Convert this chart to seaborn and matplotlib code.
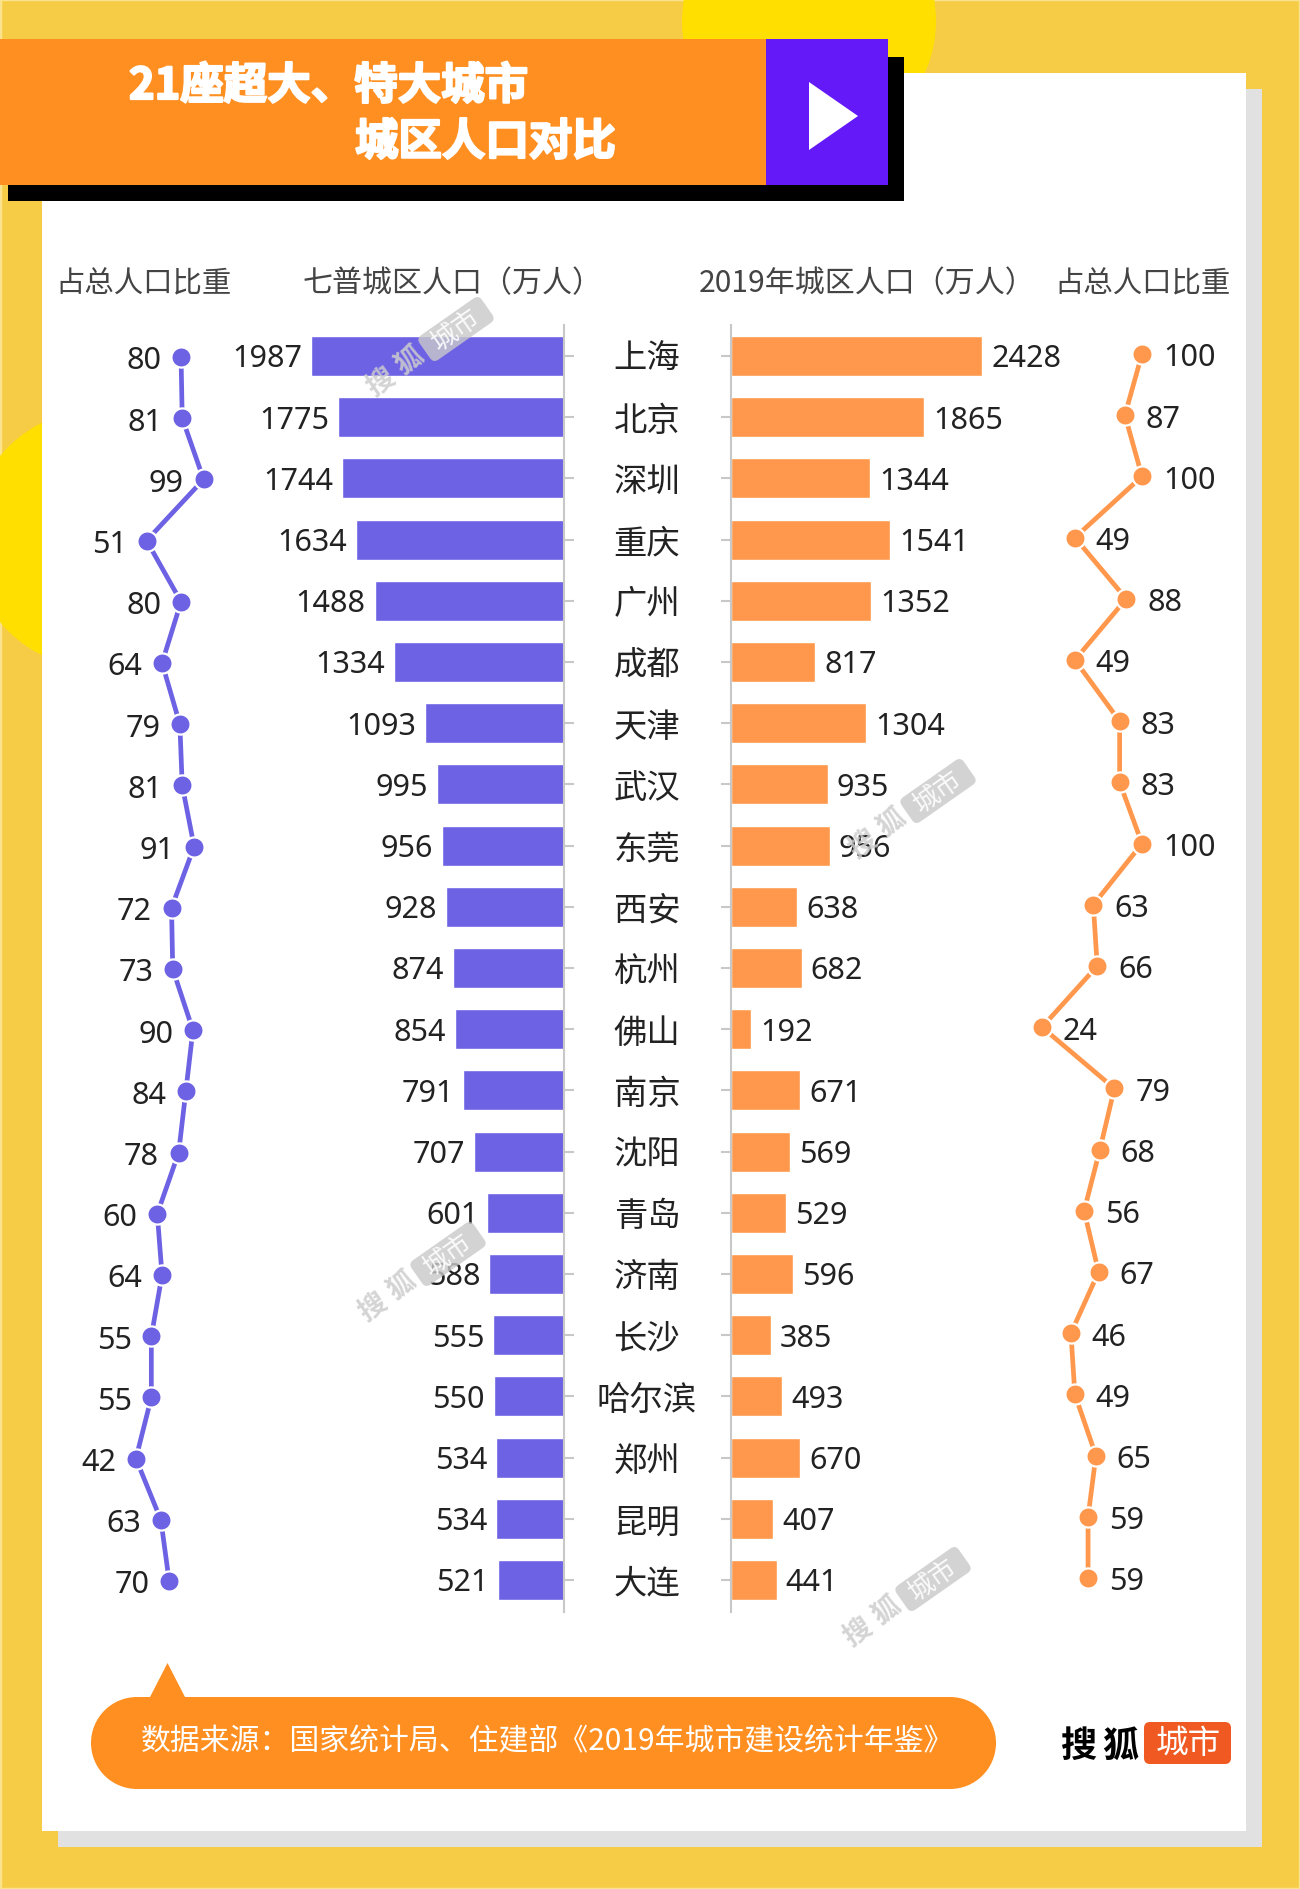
import matplotlib
matplotlib.use("Agg")
import matplotlib.pyplot as plt
import matplotlib.patheffects as pe
from matplotlib.patches import Rectangle, Circle, Polygon, FancyBboxPatch
from matplotlib.transforms import Affine2D, ScaledTranslation
import pandas as pd
import seaborn as sns

cities = ["上海", "北京", "深圳", "重庆", "广州", "成都", "天津", "武汉", "东莞", "西安", "杭州",
          "佛山", "南京", "沈阳", "青岛", "济南", "长沙", "哈尔滨", "郑州", "昆明", "大连"]
census_share = [80, 81, 99, 51, 80, 64, 79, 81, 91, 72, 73, 90, 84, 78, 60, 64, 55, 55, 42, 63, 70]
census_pop = [1987, 1775, 1744, 1634, 1488, 1334, 1093, 995, 956, 928, 874, 854, 791, 707, 601,
              588, 555, 550, 534, 534, 521]
pop_2019 = [2428, 1865, 1344, 1541, 1352, 817, 1304, 935, 956, 638, 682, 192, 671, 569, 529,
            596, 385, 493, 670, 407, 441]
share_2019 = [100, 87, 100, 49, 88, 49, 83, 83, 100, 63, 66, 24, 79, 68, 56, 67, 46, 49, 65, 59, 59]

title_lines = ["21座超大、特大城市", "城区人口对比"]
headers = ["占总人口比重", "七普城区人口（万人）", "2019年城区人口（万人）", "占总人口比重"]
source_text = "数据来源：国家统计局、住建部《2019年城市建设统计年鉴》"

PURPLE = "#6E62E4"
ORANGE = "#FF984D"
BG = "#F6CC46"
W, H = 1300, 1890
CJK = "Noto Sans CJK SC"
DIGITS = ["Noto Sans", CJK]
NUM_SIZE = 22

sns.set_theme(style="white")
plt.rcParams["font.family"] = [CJK, "DejaVu Sans"]
plt.rcParams["axes.facecolor"] = "none"

fig = plt.figure(figsize=(13, 18.9), dpi=100, facecolor=BG)


def px_axes(x0, y0, x1, y1, z):
    """Axes from pixel box (y measured from the top of the figure)."""
    return fig.add_axes([x0 / W, 1 - y1 / H, (x1 - x0) / W, (y1 - y0) / H], zorder=z)


# ---------- decoration layer ----------
bg = px_axes(0, 0, W, H, 0)
bg.set_xlim(0, W)
bg.set_ylim(H, 0)
bg.axis("off")
bg.add_patch(Rectangle((0, 0), W, H, fc=BG, ec="#FBE38E", lw=2.5))
bg.add_patch(Circle((809, 22), 127, fc="#FFDF00", ec="none"))
bg.add_patch(Circle((100, 540), 130, fc="#FFDF00", ec="none"))
bg.add_patch(Rectangle((58, 90), 1204, 1758, fc="#E1E1E1", ec="none"))
bg.add_patch(Rectangle((42, 74), 1204, 1758, fc="white", ec="none"))
bg.add_patch(Rectangle((8, 58), 896, 144, fc="black", ec="none"))
bg.add_patch(Rectangle((0, 40), 766, 146, fc="#FF8F20", ec="none"))
bg.add_patch(Rectangle((766, 40), 122, 146, fc="#6419F9", ec="none"))
bg.add_patch(Polygon([(809, 83), (858, 117), (809, 151)], fc="white", ec="none"))

stroke = [pe.withStroke(linewidth=1.6, foreground="white")]
bg.text(129, 87, title_lines[0], color="white", fontsize=31.3, fontweight="bold",
        ha="left", va="center", path_effects=stroke)
bg.text(355, 143, title_lines[1], color="white", fontsize=31.3, fontweight="bold",
        ha="left", va="center", path_effects=stroke)

for x, size, label in zip([55.5, 303, 699, 1054.5], [21.2, 21.6, 21.6, 21.2], headers):
    bg.text(x, 283.5, label, color="#444444", fontsize=size, ha="left", va="center")

bg.add_patch(Polygon([(149, 1700), (167.5, 1664), (186, 1700)], fc="#FF8F20", ec="none"))
bg.add_patch(Rectangle((137, 1698), 813, 92, fc="#FF8F20", ec="none"))
bg.add_patch(Circle((137, 1744), 46, fc="#FF8F20", ec="none"))
bg.add_patch(Circle((950, 1744), 46, fc="#FF8F20", ec="none"))
bg.text(141, 1741.5, source_text, color="white", fontsize=21.5, ha="left", va="center")

bg.text(1060, 1746, "搜", color="black", fontsize=26, fontweight="bold", ha="left", va="center")
bg.text(1102, 1746, "狐", color="black", fontsize=26, fontweight="bold", ha="left", va="center")
bg.add_patch(FancyBboxPatch((1150, 1729), 75, 30, boxstyle="round,pad=6,rounding_size=6",
                            fc="#F05A22", ec="none"))
bg.text(1188, 1744, "城市", color="white", fontsize=23.5, ha="center", va="center")

# ---------- bars ----------
PITCH = 61.2
Y0 = 357
TOP, BOTTOM = 326, 1613
ylim = ((BOTTOM - Y0) / PITCH, (TOP - Y0) / PITCH)
df = pd.DataFrame({"city": cities, "census": census_pop, "y2019": pop_2019,
                   "share_c": census_share, "share_r": share_2019, "pos": range(len(cities))})

ax_l = px_axes(100, TOP, 564, BOTTOM, 2)
sns.barplot(data=df, y="city", x="census", ax=ax_l, color=PURPLE, saturation=1,
            width=40 / PITCH, orient="h")
ax_l.set_xlim(464 / 0.1273, 0)
ax_r = px_axes(731, TOP, 1240, BOTTOM, 2)
sns.barplot(data=df, y="city", x="y2019", ax=ax_r, color=ORANGE, saturation=1,
            width=40 / PITCH, orient="h")
ax_r.set_xlim(0, 509 / 0.1034)

for ax in (ax_l, ax_r):
    ax.set_ylim(*ylim)
    ax.set_xlabel("")
    ax.set_ylabel("")
    ax.xaxis.set_visible(False)
    sns.despine(ax=ax, top=True, bottom=True, left=ax is ax_l, right=ax is ax_r)
    for ann in ax.bar_label(ax.containers[0], padding=6.5, fontsize=NUM_SIZE, color="#222222",
                            family=DIGITS):
        x_off, y_off = ann.xyann
        ann.xyann = (x_off, y_off - 1.7)

ax_l.spines["right"].set(color="#C8C8C8", linewidth=1.5)
ax_l.yaxis.tick_right()
ax_l.tick_params(axis="y", length=7.2, width=1.5, color="#C8C8C8", labelright=False, right=True)
ax_r.spines["left"].set(color="#C8C8C8", linewidth=1.5)
ax_r.tick_params(axis="y", left=True, length=7.2, width=1.5, color="#C8C8C8", pad=53.3,
                 labelsize=24, labelcolor="#222222")
for lab in ax_r.get_yticklabels():
    lab.set_ha("center")
    lab.set_transform(lab.get_transform() + ScaledTranslation(0, 0.8 / 72, fig.dpi_scale_trans))

# ---------- share lines ----------
ax_cl = px_axes(86, TOP + 1, 204.8, BOTTOM + 1, 3)
sns.lineplot(data=df, x="share_c", y="pos", ax=ax_cl, sort=False, estimator=None, orient="y",
             color=PURPLE, lw=3.4, marker="o", ms=14.5, mec="white", mew=1.6, clip_on=False)
ax_cr = px_axes(1010.4, TOP - 2, 1142, BOTTOM - 2, 3)
sns.lineplot(data=df, x="share_r", y="pos", ax=ax_cr, sort=False, estimator=None, orient="y",
             color=ORANGE, lw=3.4, marker="o", ms=14.5, mec="white", mew=1.6, clip_on=False)
ax_cl.set_xlim(0, 100)
ax_cr.set_xlim(0, 100)
for ax in (ax_cl, ax_cr):
    ax.set_ylim(*ylim)
    ax.axis("off")
for i, (a, b) in enumerate(zip(census_share, share_2019)):
    ax_cl.annotate(str(a), (a, i), xytext=(-14.2, -2.4), textcoords="offset points", ha="right",
                   va="center", fontsize=NUM_SIZE, family=DIGITS, color="#222222",
                   annotation_clip=False)
    ax_cr.annotate(str(b), (b, i), xytext=(15.0, -2.4), textcoords="offset points", ha="left",
                   va="center", fontsize=NUM_SIZE, family=DIGITS, color="#222222",
                   annotation_clip=False)

# ---------- watermarks ----------
fg = px_axes(0, 0, W, H, 10)
fg.set_xlim(0, W)
fg.set_ylim(H, 0)
fg.axis("off")
ANGLE = 35


def watermark(cx, cy):
    box = FancyBboxPatch((cx - 33, cy - 10), 66, 20, boxstyle="round,pad=5,rounding_size=6",
                         fc="#C9C9C9", ec="none", alpha=0.8)
    box.set_transform(Affine2D().rotate_deg_around(cx, cy, -ANGLE) + fg.transData)
    fg.add_patch(box)
    fg.text(cx, cy, "城市", color="white", alpha=0.9, fontsize=19, rotation=ANGLE,
            rotation_mode="anchor", ha="center", va="center")
    for dist, ch in ((-56, "狐"), (-92, "搜")):
        fg.text(cx + dist * 0.819, cy - dist * 0.574, ch, color="#CDCDCD", alpha=0.85,
                fontsize=20, fontweight="bold", rotation=ANGLE, rotation_mode="anchor",
                ha="center", va="center")


for c in [(456, 330), (938, 792), (448, 1255), (933, 1580)]:
    watermark(*c)

fig.savefig("out.png", dpi=100, facecolor=BG)
